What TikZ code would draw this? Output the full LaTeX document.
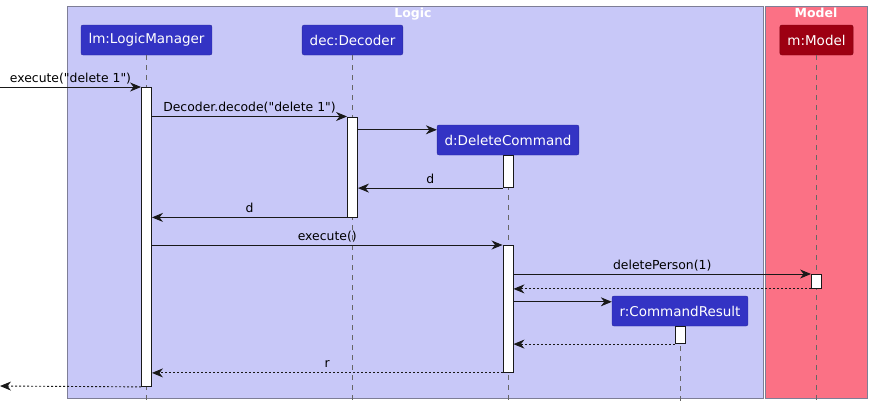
\documentclass[tikz,border=0pt]{standalone}
\usepackage{fontspec}
\setmainfont{DejaVu Sans}
\usetikzlibrary{arrows.meta}

\definecolor{logicbg}{HTML}{C8C8F8}
\definecolor{modelbg}{HTML}{FB7185}
\definecolor{logicfg}{HTML}{3333C4}
\definecolor{modelfg}{HTML}{9D0012}
\definecolor{groupline}{HTML}{7E7E96}

\begin{document}
\begin{tikzpicture}[x=1pt, y=-1pt,
  part/.style={rounded corners=2pt, minimum height=30, inner xsep=7.5pt, text=white,
    font=\fontsize{13.5}{16}\selectfont, draw=#1!80!black, fill=#1},
  bar/.style={draw=black!90, fill=white, minimum width=10, inner sep=0pt, anchor=north, line width=0.9pt},
  life/.style={draw=black!60, dash pattern=on 5pt off 5pt, line width=0.8pt},
  msg/.style={-{Stealth[length=11pt,width=9pt,inset=3.5pt]}, draw=black!90, line width=0.9pt},
  ret/.style={msg, dash pattern=on 2pt off 2pt},
  lbl/.style={midway, anchor=base, yshift=5pt, font=\fontsize{12.4}{14}\selectfont},
  grouptitle/.style={text=white, anchor=base, font=\bfseries\fontsize{12.5}{14}\selectfont}]
  \useasboundingbox (0,0) rectangle (872,410);

  % boxes
  \draw[fill=logicbg, draw=groupline, line width=0.8pt] (67,6) rectangle (763,398);
  \draw[fill=modelbg, draw=groupline, line width=0.8pt] (765.5,6) rectangle (867,398);
  \node[grouptitle] (logictitle) at (413,17.5) {Logic};
  \node[grouptitle] (modeltitle) at (816,17.5) {Model};

  % participants
  \node[part=logicfg] (lm) at (146.5,40) {lm:LogicManager};
  \node[part=logicfg] (dec) at (352.5,40) {dec:Decoder};
  \node[part=modelfg] (m) at (816.5,40) {m:Model};
  \node[part=logicfg] (d) at (508,140) {d:DeleteCommand};
  \node[part=logicfg] (r) at (680,311) {r:CommandResult};

  \coordinate (bot) at (0,401);
  \foreach \p in {lm, dec, m, d, r}
    \draw[life] (\p.south) -- (\p.south |- bot);

  % activations
  \node[bar, minimum height=299] (lmbar) at (lm.south |- 0,87) {};
  \node[bar, minimum height=100] (decbar) at (dec.south |- 0,116.5) {};
  \node[bar, minimum height=32] (dbara) at (d.south) {};
  \node[bar, minimum height=127] (dbarb) at (d.south |- 0,245) {};
  \node[bar, minimum height=14] (mbar) at (m.south |- 0,274) {};
  \node[bar, minimum height=17] (rbar) at (r.south) {};

  \coordinate (in) at (0,87);
  \coordinate (out) at (0,386);
  \path (d.north west) ++(0,5) coordinate (dnew);
  \path (r.north west) ++(0,6) coordinate (rnew);

  % messages
  \draw[msg] (in) -- node[lbl] {execute(\textquotedbl delete 1\textquotedbl)} (lmbar.north west);
  \draw[msg] (lmbar.east |- decbar.north) -- node[lbl] {Decoder.decode(\textquotedbl delete 1\textquotedbl)} (decbar.north west);
  \draw[msg] (decbar.east |- dnew) -- (dnew);
  \draw[msg] (dbara.south west) -- node[lbl] {d} (decbar.east |- dbara.south);
  \draw[msg] (decbar.south west) -- node[lbl] {d} (lmbar.east |- decbar.south);
  \draw[msg] (lmbar.east |- dbarb.north) -- node[lbl] {execute()} (dbarb.north west);
  \draw[msg] (dbarb.east |- mbar.north) -- node[lbl] {deletePerson(1)} (mbar.north west);
  \draw[ret] (mbar.south west) -- (dbarb.east |- mbar.south);
  \draw[msg] (dbarb.east |- rnew) -- (rnew);
  \draw[ret] (rbar.south west) -- (dbarb.east |- rbar.south);
  \draw[ret] (dbarb.south west) -- node[lbl] {r} (lmbar.east |- dbarb.south);
  \draw[ret] (lmbar.south west) -- (out);
\end{tikzpicture}
\end{document}
